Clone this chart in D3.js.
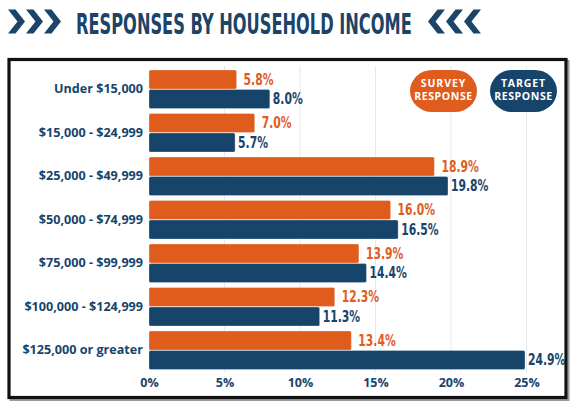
<!DOCTYPE html>
<html>
<head>
<meta charset="utf-8">
<script src="https://cdn.jsdelivr.net/npm/d3@7"></script>
<style>
  html, body { margin: 0; padding: 0; background: #fff; }
  svg { display: block; }
</style>
</head>
<body>
<div id="chart"></div>
<script>
const categories = ["Under $15,000", "$15,000 - $24,999", "$25,000 - $49,999", "$50,000 - $74,999", "$75,000 - $99,999", "$100,000 - $124,999", "$125,000 or greater"];
const surveyValues = [5.8, 7.0, 18.9, 16.0, 13.9, 12.3, 13.4];
const targetValues = [8.0, 5.7, 19.8, 16.5, 14.4, 11.3, 24.9];
const seriesNames = ["SURVEY RESPONSE", "TARGET RESPONSE"];
const tickValues = [0, 5, 10, 15, 20, 25];
const titleText = "RESPONSES BY HOUSEHOLD INCOME";

const W = 577, H = 406;
const ORANGE = "#e05c1d", NAVY = "#17446b", TITLE = "#1b4468";
const COND = "'Liberation Sans Narrow', 'DejaVu Sans Condensed', 'DejaVu Sans', sans-serif";

const svg = d3.select("#chart").append("svg").attr("width", W).attr("height", H);

// Title (scaled horizontally to fit the reference width)
const title = svg.append("text")
  .attr("font-family", COND)
  .attr("font-weight", "bold").attr("font-size", 28)
  .attr("fill", TITLE).text(titleText);
const tw = title.node().getComputedTextLength();
title.attr("transform", `translate(76,33.5) scale(${336 / tw},1)`);

// Chevrons
function chevron(x, dir) {
  const y0 = 9.5, y1 = 33.5, ym = (y0 + y1) / 2, w = 17, t = 7.5;
  let pts = [[0, y0], [t, y0], [w, ym], [t, y1], [0, y1], [w - t, ym]];
  if (dir < 0) pts = pts.map(p => [w - p[0], p[1]]);
  svg.append("polygon")
    .attr("points", pts.map(p => [x + p[0], p[1]].join(",")).join(" "))
    .attr("fill", TITLE);
}
[8, 26, 44].forEach(x => chevron(x, 1));
[428, 446, 464].forEach(x => chevron(x, -1));

// Frame
svg.append("rect").attr("x", 10.5).attr("y", 61).attr("width", 558).attr("height", 339)
  .attr("fill", "none").attr("stroke", "#9a9a9a").attr("stroke-width", 2);
svg.append("rect").attr("x", 9).attr("y", 59.5).attr("width", 557).attr("height", 338)
  .attr("fill", "#fff").attr("stroke", "#111").attr("stroke-width", 3.2);

// Scales
const x = d3.scaleLinear().domain([0, 25]).range([149, 526.5]);
const y = d3.scaleBand().domain(categories).range([67.5, 372]).paddingInner(0.115).paddingOuter(0.0575);
const ySub = d3.scaleBand().domain(seriesNames).range([0, y.bandwidth()]).paddingInner(0.03);

// Gridlines
svg.append("g").selectAll("line").data(tickValues.filter(d => d > 0)).join("line")
  .attr("x1", d => x(d)).attr("x2", d => x(d))
  .attr("y1", 66).attr("y2", 372)
  .attr("stroke", "#e6e8eb").attr("stroke-width", 1);

// Bars
const rows = categories.map((c, i) => ({ cat: c, vals: [
  { s: seriesNames[0], v: surveyValues[i], color: ORANGE, off: 7 },
  { s: seriesNames[1], v: targetValues[i], color: NAVY, off: 3 }
]}));

const g = svg.append("g").selectAll("g").data(rows).join("g")
  .attr("transform", d => `translate(0,${y(d.cat)})`);

g.selectAll("rect").data(d => d.vals).join("rect")
  .attr("x", x(0)).attr("y", d => ySub(d.s))
  .attr("width", d => x(d.v) - x(0)).attr("height", ySub.bandwidth())
  .attr("rx", 1.5)
  .attr("fill", d => d.color)
  .attr("stroke", "rgba(255,255,255,0.35)").attr("stroke-width", 0.8);

g.selectAll("text").data(d => d.vals).join("text")
  .attr("transform", d => `translate(${x(d.v) + d.off},${ySub(d.s) + ySub.bandwidth() / 2}) scale(0.8,1)`)
  .attr("dy", "0.36em")
  .attr("font-family", COND)
  .attr("font-weight", "bold").attr("font-size", 15)
  .attr("fill", d => d.color)
  .text(d => d.v.toFixed(1) + "%");

// Y axis (category labels)
const yAxis = d3.axisLeft(y).tickSize(0).tickPadding(6);
const ya = svg.append("g").attr("transform", `translate(${x(0)},0)`).call(yAxis);
ya.select(".domain").remove();
ya.selectAll("text")
  .attr("font-family", "'Open Sans', sans-serif").attr("font-weight", 700)
  .attr("font-size", 12.6).attr("fill", NAVY);

// X axis
const xAxis = d3.axisBottom(x).tickValues(tickValues).tickSize(0).tickPadding(6).tickFormat(d => d + "%");
const xa = svg.append("g").attr("transform", `translate(0,372)`).call(xAxis);
xa.select(".domain").remove();
xa.selectAll("text")
  .attr("font-family", "'Open Sans', sans-serif").attr("font-weight", 700)
  .attr("font-size", 12.5).attr("fill", NAVY);

// Legend pills
const legend = [
  { name: seriesNames[0], color: ORANGE, x: 410 },
  { name: seriesNames[1], color: NAVY, x: 490 }
];
const lg = svg.append("g").selectAll("g").data(legend).join("g")
  .attr("transform", d => `translate(${d.x},70)`);
lg.append("rect").attr("width", 67).attr("height", 42).attr("rx", 22).attr("ry", 21)
  .attr("fill", d => d.color);
lg.append("text").attr("x", 33.5).attr("y", 17).attr("text-anchor", "middle")
  .attr("font-family", "'Open Sans', sans-serif").attr("font-weight", 700)
  .attr("font-size", 10.5).attr("letter-spacing", 0.9).attr("fill", "#fff")
  .text(d => d.name.split(" ")[0]);
lg.append("text").attr("x", 33.5).attr("y", 30).attr("text-anchor", "middle")
  .attr("font-family", "'Open Sans', sans-serif").attr("font-weight", 700)
  .attr("font-size", 10.5).attr("letter-spacing", 0.6).attr("fill", "#fff")
  .text(d => d.name.split(" ")[1]);
</script>
</body>
</html>
